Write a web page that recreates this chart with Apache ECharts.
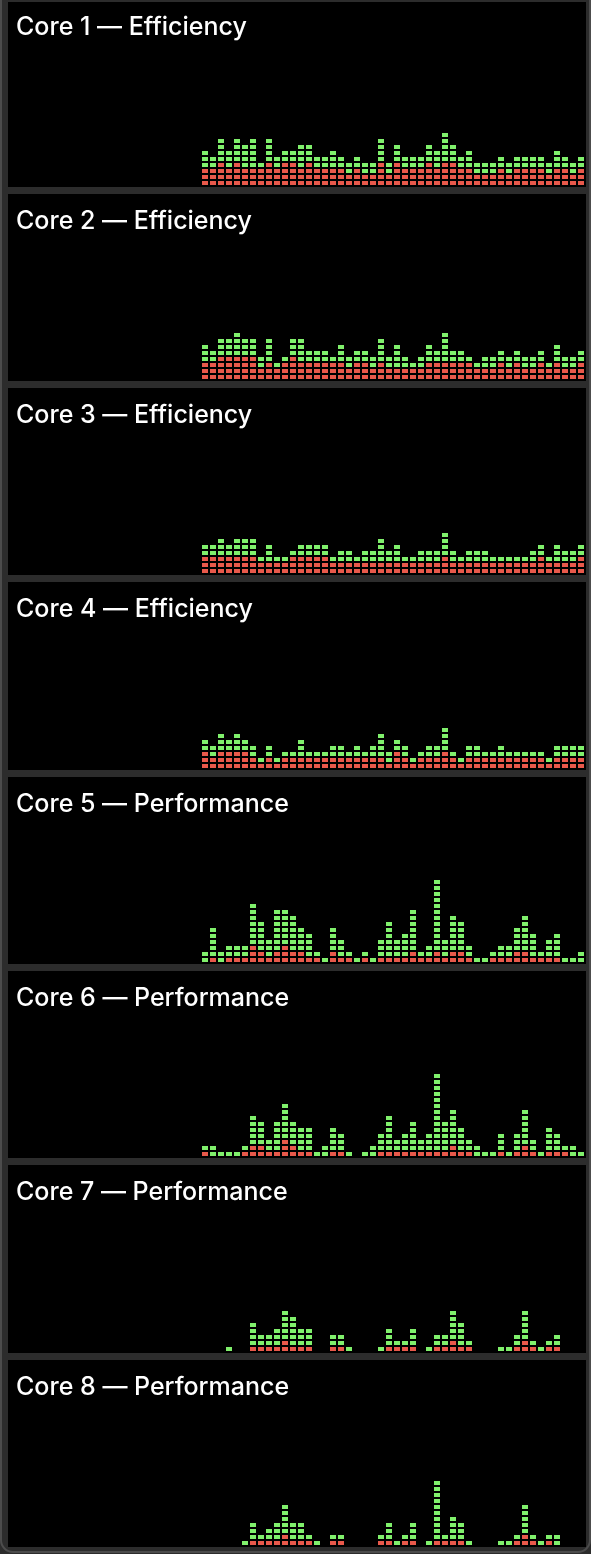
<!DOCTYPE html>
<html><head><meta charset="utf-8">
<script src="https://cdn.jsdelivr.net/npm/echarts@6/dist/echarts.min.js"></script>
<style>html,body{margin:0;padding:0;background:#2c2c2c;overflow:hidden;} #c{width:591px;height:1554px;}</style>
</head><body><div id="c"></div>
<script>
const coreTitles = ['Core 1 — Efficiency','Core 2 — Efficiency','Core 3 — Efficiency','Core 4 — Efficiency',
  'Core 5 — Performance','Core 6 — Performance','Core 7 — Performance','Core 8 — Performance'];
const slots = Array.from({length: 48}, (_, i) => 't' + (i + 1));

// red blocks (system) and green blocks (user), one entry per sample
const core1System = [3,3,4,3,4,3,3,3,4,3,4,4,3,4,3,3,3,3,2,3,2,2,4,2,4,3,3,3,4,3,4,4,3,3,2,2,2,3,2,3,3,3,3,2,3,3,2,3];
const core1User   = [3,2,4,3,4,4,5,1,4,2,2,2,4,3,2,2,3,2,2,2,2,2,4,2,3,2,2,2,3,3,5,3,2,3,2,2,2,2,2,2,2,2,2,2,3,2,2,2];
const core2System = [3,3,4,4,4,4,4,2,3,2,3,4,3,3,3,3,3,3,2,3,3,2,3,2,2,2,2,2,3,3,3,3,3,3,2,2,2,3,2,3,2,2,3,2,3,2,2,3];
const core2User   = [3,2,3,3,4,3,3,2,4,1,1,3,4,2,2,2,1,3,2,2,2,2,4,2,4,2,1,2,3,2,5,2,2,1,1,2,2,2,2,2,2,2,2,1,3,2,2,2];
const core3System = [3,3,3,3,3,3,3,2,2,2,2,3,3,3,3,3,2,2,2,2,2,2,2,2,2,2,2,2,2,2,3,2,2,2,2,2,2,2,2,2,2,2,3,2,2,2,2,3];
const core3User   = [2,2,3,2,3,3,3,1,3,1,1,1,2,2,2,2,1,2,2,1,2,2,4,2,3,1,1,2,2,2,4,2,1,2,2,2,1,1,1,1,1,2,2,1,3,2,2,2];
const core4System = [3,2,3,3,3,3,2,1,2,1,2,2,2,2,2,2,2,2,2,2,2,2,2,1,3,2,1,2,2,2,3,2,1,2,2,2,2,2,2,2,2,2,2,1,2,2,2,2];
const core4User   = [2,2,3,2,3,2,2,1,2,1,1,1,3,1,1,1,2,2,1,2,1,2,4,2,2,2,1,1,2,2,4,1,1,2,2,1,1,2,1,1,1,1,1,1,2,2,2,2];
const core5System = [0,1,0,1,1,1,3,2,1,2,3,2,2,1,1,0,2,1,1,0,1,0,1,1,1,1,2,1,1,2,1,2,2,1,0,0,1,1,1,2,2,1,1,1,1,0,0,0];
const core5User   = [2,5,2,2,2,2,7,5,3,7,6,6,4,4,1,1,4,3,1,1,1,1,3,6,3,4,7,1,2,12,3,6,5,2,1,1,1,2,2,4,6,4,1,3,4,1,1,2];
const core6System = [1,0,0,0,0,1,2,2,1,1,3,2,1,1,0,0,1,1,0,0,0,0,1,1,1,1,1,1,1,1,1,2,1,1,0,0,0,1,0,1,2,1,0,1,1,1,0,0];
const core6User   = [1,2,1,1,1,1,5,4,2,5,6,4,4,4,1,2,4,3,1,0,1,2,3,6,2,3,5,2,3,13,5,6,4,2,2,1,1,3,1,3,6,2,1,4,3,1,2,1];
const core7System = [0,0,0,0,0,0,1,1,1,1,2,1,1,1,0,0,1,1,0,0,0,0,0,1,1,1,1,0,0,1,1,2,1,1,0,0,0,0,0,1,2,1,0,1,1,0,0,0];
const core7User   = [0,0,0,1,0,0,4,2,2,3,5,5,3,3,0,0,2,2,1,0,0,0,1,3,1,1,3,0,1,2,2,5,4,1,0,0,0,1,1,2,5,1,1,1,2,0,0,0];
const core8System = [0,0,0,0,0,0,1,1,1,1,2,1,1,1,0,0,1,1,0,0,0,0,1,1,0,1,1,0,0,1,1,1,1,0,0,0,0,0,0,1,2,1,0,1,0,0,0,0];
const core8User   = [0,0,0,0,0,1,3,1,2,3,5,3,3,1,1,0,1,1,0,0,0,0,1,3,1,1,3,0,1,10,1,4,3,1,0,0,0,1,1,1,5,1,1,1,2,0,0,0];

const systemSeries = [core1System, core2System, core3System, core4System, core5System, core6System, core7System, core8System];
const userSeries = [core1User, core2User, core3User, core4User, core5User, core6User, core7User, core8User];

// layout (pixels)
const panelBottoms = [186, 380, 574, 769, 963, 1157, 1352, 1546];
const GRID_H = 144, Y_MAX = 24; // 6px per block slot
const RED = '#e9594b', GREEN = '#80f06c';

const chart = echarts.init(document.getElementById('c'), null, {renderer: 'canvas', width: 591, height: 1554});

const grids = [], xAxes = [], yAxes = [], series = [], titles = [];
const graphics = [{
  type: 'rect', z: -10, silent: true,
  shape: {x: 1, y: -20, width: 589, height: 1572, r: [0, 0, 12, 12]},
  style: {fill: '#2c2c2c', stroke: '#4c4c4c', lineWidth: 2}
}];

coreTitles.forEach((t, i) => {
  const bottom = panelBottoms[i];
  const top = i === 0 ? 2 : panelBottoms[i - 1] + 8;
  graphics.push({type: 'rect', z: -9, silent: true,
    shape: {x: 8, y: top, width: 578, height: bottom + 1 - top},
    style: {fill: '#000000'}});
  grids.push({left: 201, width: 384, top: bottom - GRID_H, height: GRID_H, containLabel: false});
  xAxes.push({type: 'category', gridIndex: i, data: slots, show: false, boundaryGap: true});
  yAxes.push({type: 'value', gridIndex: i, min: 0, max: Y_MAX, show: false});
  titles.push({text: t, left: 16, top: Math.round(25.5 + 194.29 * i) - 12, padding: 0,
    textStyle: {color: '#ffffff', fontSize: 25, fontWeight: 500, fontFamily: 'Inter, "Noto Sans", sans-serif', lineHeight: 26}});
  const sys = systemSeries[i], usr = userSeries[i];
  series.push({
    type: 'custom', xAxisIndex: i, yAxisIndex: i, silent: true,
    data: slots.map((s, j) => [j, sys[j], usr[j]]),
    renderItem: function (params, api) {
      const idx = api.value(0), s = api.value(1), u = api.value(2);
      const cx = api.coord([idx, 0])[0];
      const children = [];
      for (let k = 0; k < s + u; k++) {
        const yb = api.coord([idx, k])[1];
        const yt = api.coord([idx, k + 1])[1];
        children.push({type: 'rect',
          shape: {x: Math.round(cx) - 3, y: Math.round(yt) + 1, width: 6, height: Math.round(yb) - Math.round(yt) - 2},
          style: {fill: k < s ? RED : GREEN}});
      }
      return {type: 'group', children: children};
    }
  });
});

chart.setOption({
  backgroundColor: '#2c2c2c',
  animation: false,
  title: titles,
  grid: grids,
  xAxis: xAxes,
  yAxis: yAxes,
  graphic: graphics,
  series: series
});
</script>
</body></html>
